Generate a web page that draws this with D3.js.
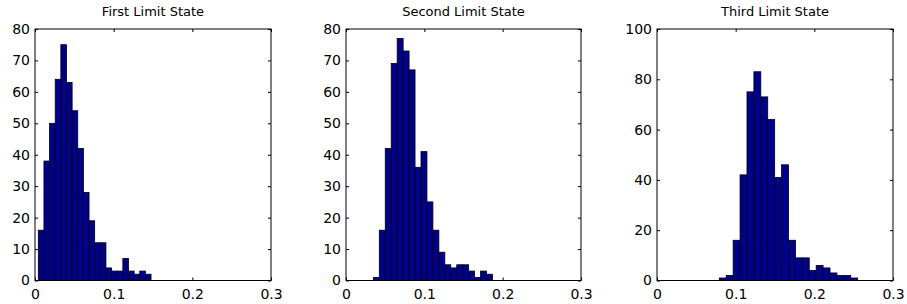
<!DOCTYPE html>
<html>
<head>
<meta charset="utf-8">
<script src="https://cdn.jsdelivr.net/npm/d3@7"></script>
<style>
  body { margin: 0; background: #fff; }
  svg { display: block; }
</style>
</head>
<body>
<div id="d3-container"></div>
<script>
// histogram counts (20 bins each)
const titles = ['First Limit State', 'Second Limit State', 'Third Limit State'];
const firstCounts = [16, 38, 50, 64, 75, 63, 54, 42, 28, 19, 12, 12, 4, 3, 3, 7, 3, 2, 3, 2];
const secondCounts = [1, 16, 42, 69, 77, 73, 67, 36, 41, 25, 16, 9, 5, 4, 5, 5, 3, 1, 3, 2];
const thirdCounts = [1, 2, 16, 42, 75, 83, 73, 64, 41, 46, 16, 9, 9, 4, 6, 5, 3, 2, 2, 1];
// bin range [start, end] for each panel
const binRanges = [[0.0042, 0.1475], [0.0349, 0.1870], [0.0792, 0.2551]];
const xTicks = [0, 0.1, 0.2, 0.3];
const yMax = [80, 80, 100];
const yTickStep = [10, 10, 20];

const width = 907;
const height = 304;
const panels = [
  { left: 35, right: 271 },
  { left: 346, right: 581 },
  { left: 657, right: 893 }
];
const plotTop = 29, plotBottom = 280.5;
const tick = 3;
const font = 'DejaVu Sans, Liberation Sans, Arial, sans-serif';

const svg = d3.select('#d3-container')
  .append('svg')
  .attr('width', width)
  .attr('height', height)
  .style('font-family', font);

const allCounts = [firstCounts, secondCounts, thirdCounts];

panels.forEach((p, k) => {
  const counts = allCounts[k];
  const [b0, b1] = binRanges[k];
  const bw = (b1 - b0) / counts.length;

  const x = d3.scaleLinear().domain([0, 0.3]).range([p.left, p.right]);
  const y = d3.scaleLinear().domain([0, yMax[k]]).range([plotBottom, plotTop]);
  const yTicks = d3.range(0, yMax[k] + 1, yTickStep[k]);

  const g = svg.append('g');

  g.append('g')
    .selectAll('rect')
    .data(counts)
    .join('rect')
      .attr('x', (d, i) => x(b0 + i * bw))
      .attr('y', d => y(d))
      .attr('width', (d, i) => x(b0 + (i + 1) * bw) - x(b0 + i * bw))
      .attr('height', d => y(0) - y(d))
      .attr('fill', '#00008f')
      .attr('stroke', '#000')
      .attr('stroke-width', 0.8);

  // box
  g.append('rect')
    .attr('x', p.left).attr('y', plotTop)
    .attr('width', p.right - p.left).attr('height', plotBottom - plotTop)
    .attr('fill', 'none').attr('stroke', '#000').attr('stroke-width', 1);

  const xAxis = g.append('g')
    .attr('transform', `translate(0,${plotBottom})`)
    .call(d3.axisBottom(x).tickValues(xTicks).tickSizeInner(-tick).tickSizeOuter(0).tickPadding(9)
      .tickFormat(d => d === 0 ? '0' : d3.format('.1f')(d)));
  const xTop = g.append('g')
    .attr('transform', `translate(0,${plotTop})`)
    .call(d3.axisTop(x).tickValues(xTicks).tickSizeInner(-tick).tickSizeOuter(0).tickFormat(''));
  const yAxis = g.append('g')
    .attr('transform', `translate(${p.left},0)`)
    .call(d3.axisLeft(y).tickValues(yTicks).tickSizeInner(-tick).tickSizeOuter(0).tickPadding(5));
  const yRight = g.append('g')
    .attr('transform', `translate(${p.right},0)`)
    .call(d3.axisRight(y).tickValues(yTicks).tickSizeInner(-tick).tickSizeOuter(0).tickFormat(''));

  [xAxis, xTop, yAxis, yRight].forEach(a => {
    a.select('.domain').remove();
    a.selectAll('line').attr('stroke', '#000');
    a.selectAll('text').attr('font-size', 14).attr('fill', '#000')
      .attr('font-family', font);
  });

  g.append('text')
    .attr('x', (p.left + p.right) / 2)
    .attr('y', 16)
    .attr('text-anchor', 'middle')
    .attr('font-size', 13)
    .text(titles[k]);
});
</script>
</body>
</html>
